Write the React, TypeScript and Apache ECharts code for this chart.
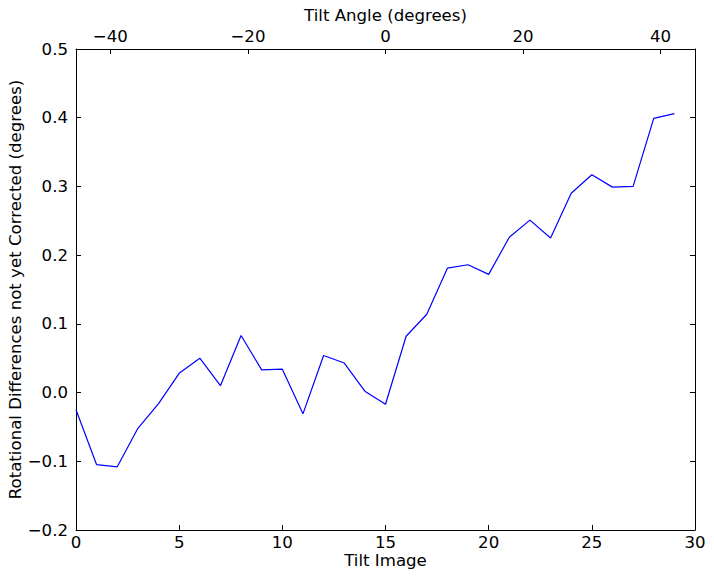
import React, { useEffect, useRef } from "react";
import * as echarts from "echarts";

const tiltImages: number[] = Array.from({ length: 30 }, (_, i) => i);
const rotationalDiff: number[] = [
  -0.025, -0.105, -0.108, -0.052, -0.016, 0.028, 0.05, 0.01, 0.083, 0.033,
  0.034, -0.031, 0.054, 0.043, 0.002, -0.017, 0.082, 0.114, 0.181, 0.186,
  0.172, 0.226, 0.251, 0.225, 0.29, 0.317, 0.299, 0.3, 0.399, 0.406,
];
const topTicks: number[] = [-40, -20, 0, 20, 40];

const FONT = "DejaVu Sans";
const FS = 16.6;
const minus = (v: number, d = 0) => {
  const s = Math.abs(v).toFixed(d);
  return v < 0 ? "\u2212" + s : s;
};

export default function App() {
  const ref = useRef<HTMLDivElement>(null);
  useEffect(() => {
    if (!ref.current) return;
    const chart = echarts.init(ref.current, null, { renderer: "svg" });
    const axisLine = { show: true, onZero: false, lineStyle: { color: "#000", width: 1 } };
    const tick = { show: true, inside: true, length: 5, lineStyle: { color: "#000", width: 1 } };
    const label = { color: "#000", fontFamily: FONT, fontSize: FS };
    const nameStyle = { color: "#000", fontFamily: FONT, fontSize: FS };
    chart.setOption({
      animation: false,
      backgroundColor: "#fff",
      grid: {
        left: 76,
        right: 19,
        top: 49,
        bottom: 49,
        containLabel: false,
        outerBoundsMode: "none",
      },
      xAxis: [
        {
          type: "value",
          position: "bottom",
          min: 0,
          max: 30,
          interval: 5,
          name: "Tilt Image",
          nameLocation: "middle",
          nameGap: 22,
          nameMoveOverlap: false,
          nameTextStyle: nameStyle,
          axisLine,
          axisTick: tick,
          axisLabel: { ...label, margin: 4 },
          splitLine: { show: false },
        },
        {
          type: "value",
          position: "top",
          min: -45,
          max: 45,
          name: "Tilt Angle (degrees)",
          nameLocation: "middle",
          nameGap: 25,
          nameMoveOverlap: false,
          nameTextStyle: nameStyle,
          axisLine,
          axisTick: { ...tick, customValues: topTicks },
          axisLabel: {
            ...label,
            margin: 4,
            customValues: topTicks,
            formatter: (v: number) => minus(v),
          },
          splitLine: { show: false },
        },
      ],
      yAxis: [
        {
          type: "value",
          position: "left",
          min: -0.2,
          max: 0.5,
          interval: 0.1,
          name: "Rotational Differences not yet Corrected (degrees)",
          nameLocation: "middle",
          nameGap: 52,
          nameMoveOverlap: false,
          nameTextStyle: nameStyle,
          axisLine,
          axisTick: tick,
          axisLabel: { ...label, margin: 8, formatter: (v: number) => minus(v, 1) },
          splitLine: { show: false },
        },
        {
          type: "value",
          position: "right",
          min: -0.2,
          max: 0.5,
          interval: 0.1,
          axisLine,
          axisTick: tick,
          axisLabel: { show: false },
          splitLine: { show: false },
        },
      ],
      series: [
        {
          type: "line",
          xAxisIndex: 0,
          yAxisIndex: 0,
          data: tiltImages.map((x, i) => [x, rotationalDiff[i]]),
          showSymbol: false,
          symbol: "none",
          lineStyle: { color: "#0000ff", width: 1.2 },
        },
      ],
    });
    return () => chart.dispose();
  }, []);
  return (
    <div
      ref={ref}
      style={{ position: "absolute", left: 0, top: 0, width: 714, height: 579 }}
    />
  );
}
